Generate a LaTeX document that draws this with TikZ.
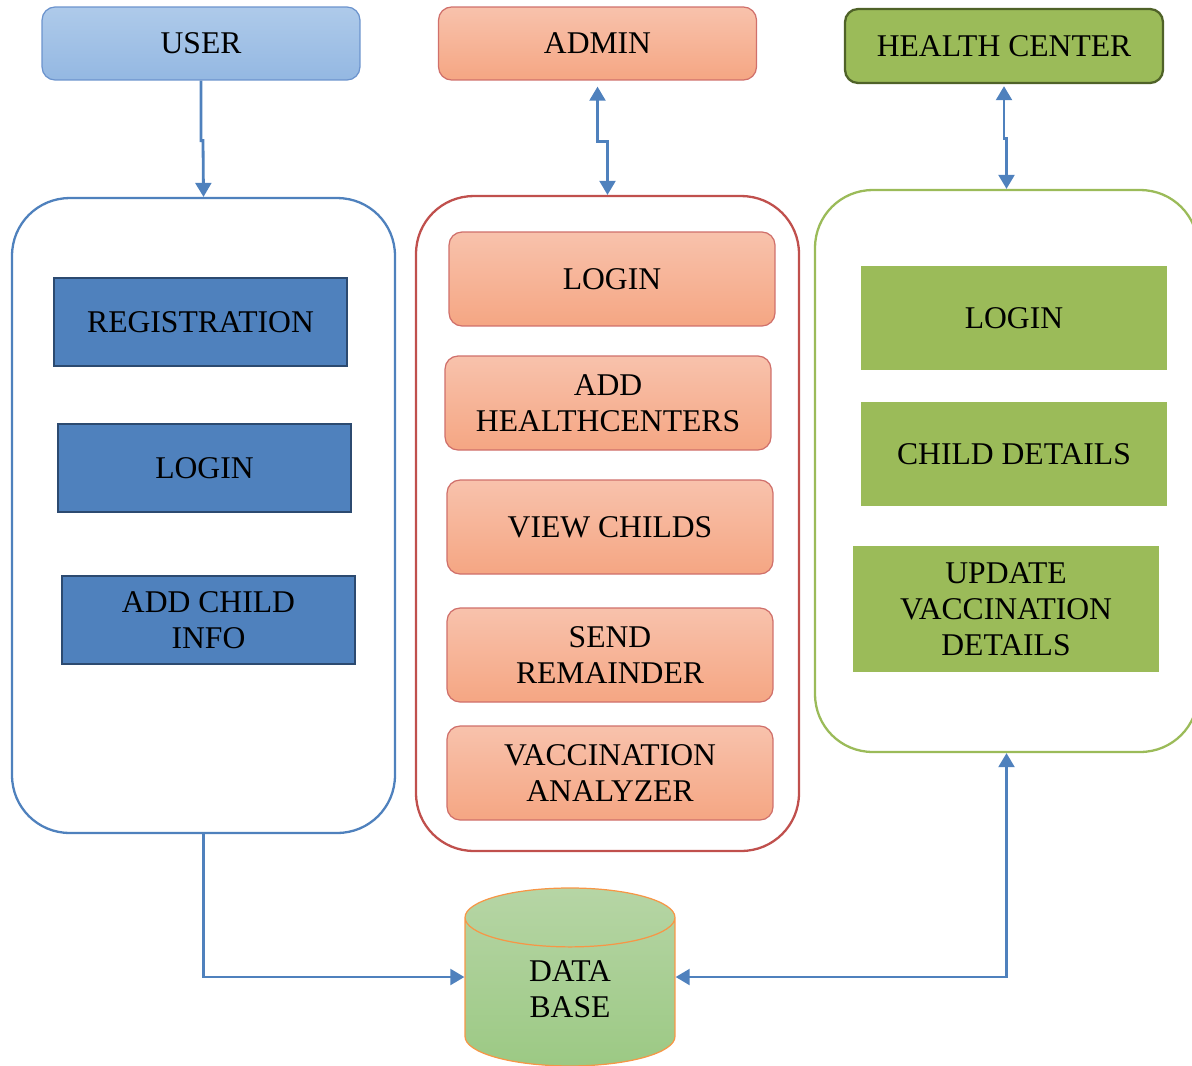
\documentclass[tikz,border=0pt]{standalone}
\usepackage{fontspec}
\setmainfont{Liberation Serif}
\usetikzlibrary{positioning}
\usetikzlibrary{arrows.meta,shapes}
\usetikzlibrary{calc}

\definecolor{userblue}{HTML}{4F81BD}
\definecolor{userdark}{HTML}{2C4A70}
\definecolor{usertop}{HTML}{AECAEA}
\definecolor{userbot}{HTML}{94B8E2}
\definecolor{userline}{HTML}{6B93CD}
\definecolor{adminred}{HTML}{C0504D}
\definecolor{admintop}{HTML}{F8C2AC}
\definecolor{adminbot}{HTML}{F5A683}
\definecolor{adminline}{HTML}{D0706B}
\definecolor{hcgreen}{HTML}{9BBB59}
\definecolor{hcdark}{HTML}{4F6228}
\definecolor{dbtop}{HTML}{B6D5A5}
\definecolor{dbbot}{HTML}{9CC984}
\definecolor{dborange}{HTML}{F79646}

\tikzset{
  every node/.style={font=\fontsize{18}{20.5}\selectfont, align=center, text=black, inner sep=0pt},
  head/.style={rounded corners=0.26cm, minimum width=6.36cm, minimum height=1.46cm},
  userhead/.style={head, draw=userline, line width=0.7pt, top color=usertop, bottom color=userbot},
  adminhead/.style={head, draw=adminline, line width=0.7pt, top color=admintop, bottom color=adminbot},
  hchead/.style={head, minimum height=1.48cm, draw=hcdark, line width=1.3pt, fill=hcgreen},
  cont/.style={rounded corners=1.15cm, minimum width=7.66cm, line width=1.3pt, fill=white},
  userbox/.style={draw=userdark, line width=1.3pt, fill=userblue, minimum width=5.86cm, minimum height=1.76cm},
  adminbox/.style={draw=adminline, line width=0.7pt, rounded corners=0.26cm, top color=admintop, bottom color=adminbot, minimum width=6.52cm, minimum height=1.88cm},
  hcbox/.style={fill=hcgreen, minimum width=6.12cm, minimum height=2.08cm},
  dbase/.style={cylinder, shape border rotate=90, aspect=0.72, draw=dborange, line width=0.7pt, top color=dbtop, bottom color=dbbot, minimum width=4.2cm, minimum height=3.56cm},
  link/.style={draw=userblue, line width=1.6pt, -{Triangle[width=9pt,length=8pt]}},
  dlink/.style={draw=userblue, line width=1.6pt, {Triangle[width=9pt,length=8pt]}-{Triangle[width=9pt,length=8pt]}}
}

\begin{document}
\begin{tikzpicture}[x=0.02cm,y=-0.02cm]
\useasboundingbox (0,0) rectangle (1192,1065);

% heads
\node[userhead] (user) at (201,43.5) {USER};
\node[adminhead] (admin) at (597.5,43.5) {ADMIN};
\node[hchead] (hc) at (1004,46) {HEALTH CENTER};

% containers
\node[cont, draw=userblue, minimum height=12.7cm] (ucont) at (203.5,515.5) {};
\node[cont, draw=adminred, minimum height=13.1cm] (acont) at (607.5,523.5) {};
\node[cont, draw=hcgreen, minimum height=11.24cm] (hcont) at (1006.5,471) {};

% user side
\node[userbox] (ureg) at (200.5,322) {REGISTRATION};
\node[userbox] (ulogin) at (204.5,468) {LOGIN};
\node[userbox] (uchild) at (208.5,620) {ADD CHILD\\INFO};

% admin side
\node[adminbox] (alogin) at (612,279) {LOGIN};
\node[adminbox] (aadd) at (608,403) {ADD\\HEALTHCENTERS};
\node[adminbox] (aview) at (610,527) {VIEW CHILDS};
\node[adminbox] (asend) at (610,655) {SEND\\REMAINDER};
\node[adminbox] (avacc) at (610,773) {VACCINATION\\ANALYZER};

% health center side
\node[hcbox] (hlogin) at (1014,318) {LOGIN};
\node[hcbox] (hchild) at (1014,454) {CHILD DETAILS};
\node[hcbox, minimum height=2.52cm] (hupdate) at (1006,609) {UPDATE\\VACCINATION\\DETAILS};

% database
\node[dbase] (db) at (570,992)
  {\begin{tabular}{@{}c@{}}DATA\\BASE\end{tabular}};

% connectors
\draw[link] (user.south) -- ++(0,60) -- ++(2,0) -- (ucont.north);
\draw[dlink, shorten <=0.12cm] (admin.south) -- ++(0,61) -| (acont.north);
\draw[dlink, shorten <=0.04cm] (hc.south) -- ++(0,54) -| (hcont.north);
\draw[link] (ucont.south) |- ($(db.west)+(0,-15)$);
\draw[dlink] (hcont.south) |- ($(db.east)+(0,-15)$);

\end{tikzpicture}
\end{document}
